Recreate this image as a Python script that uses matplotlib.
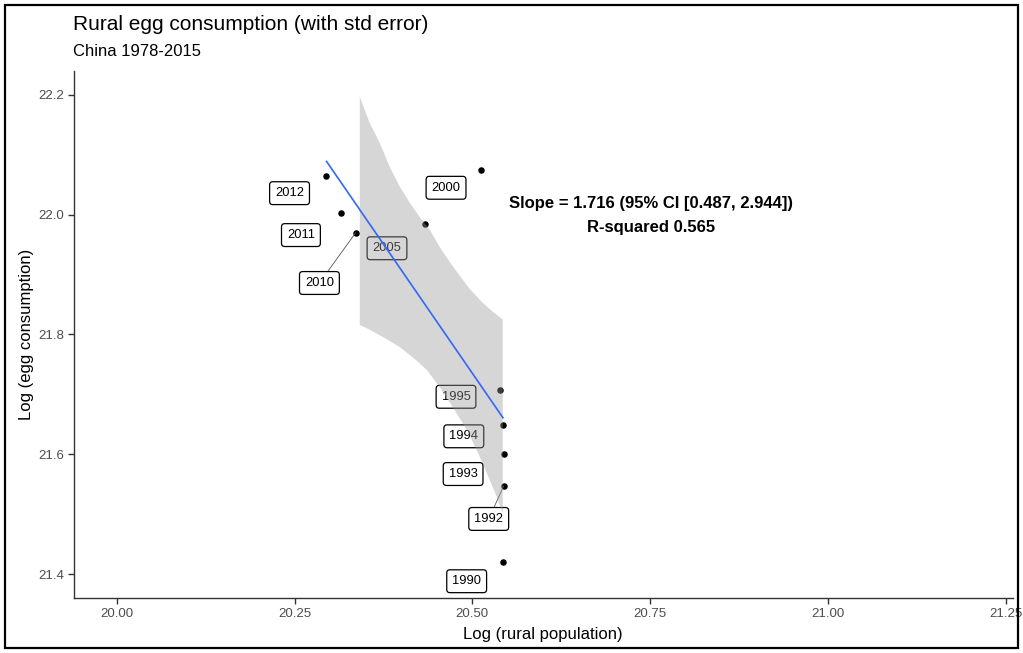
import numpy as np
import matplotlib
matplotlib.use("Agg")
import matplotlib.pyplot as plt
from matplotlib.patches import Rectangle

plt.rcParams['font.family'] = ['Liberation Sans', 'DejaVu Sans']

# ---- data ----
years = ["2012", "2011", "2010", "2005", "2000", "1995", "1994", "1993", "1992", "1990"]
log_pop = [20.294, 20.315, 20.336, 20.433, 20.512, 20.539, 20.543, 20.544, 20.544, 20.543]
log_egg = [22.065, 22.003, 21.970, 21.985, 22.075, 21.707, 21.649, 21.600, 21.547, 21.420]

# label positions (ggrepel-like placement)
label_x = [20.243, 20.259, 20.285, 20.380, 20.463, 20.477, 20.488, 20.487, 20.523, 20.492]
label_y = [22.036, 21.966, 21.886, 21.944, 22.045, 21.696, 21.630, 21.567, 21.492, 21.388]
label_segment = [False, False, True, False, False, False, False, False, True, False]

# fitted line
fit_x = [20.295, 20.543]
fit_y = [22.089, 21.661]

# standard-error band (clipped at the top by the scale limit)
band_upper_x = [20.3417, 20.3417, 20.3557, 20.3698, 20.3838, 20.3979, 20.4120, 20.4260,
                20.4401, 20.4541, 20.4682, 20.4823, 20.4963, 20.5146, 20.5287, 20.5427]
band_upper_y = [21.816, 22.197, 22.153, 22.120, 22.080, 22.047, 22.020, 21.996,
                21.975, 21.946, 21.921, 21.898, 21.876, 21.853, 21.838, 21.825]
band_lower_x = [20.3417, 20.3557, 20.3740, 20.3979, 20.4162, 20.4359, 20.4541, 20.4724,
                20.4921, 20.5062, 20.5202, 20.5343, 20.5427]
band_lower_y = [21.816, 21.808, 21.796, 21.779, 21.762, 21.741, 21.712, 21.679,
                21.641, 21.607, 21.569, 21.529, 21.502]

x_ticks = [20.00, 20.25, 20.50, 20.75, 21.00, 21.25]
x_tick_labels = ["20.00", "20.25", "20.50", "20.75", "21.00", "21.25"]
y_ticks = [21.4, 21.6, 21.8, 22.0, 22.2]
y_tick_labels = ["21.4", "21.6", "21.8", "22.0", "22.2"]

title = "Rural egg consumption (with std error)"
subtitle = "China 1978-2015"
xlabel = "Log (rural population)"
ylabel = "Log (egg consumption)"
annot1 = "Slope = 1.716 (95% CI [0.487, 2.944])"
annot2 = "R-squared 0.565"

# ---- figure ----
W, H = 1023, 653
fig = plt.figure(figsize=(W / 100, H / 100), dpi=100)
fig.patch.set_facecolor("white")

left_px, right_px, top_px, bottom_px = 74, 1013, 71, 598
ax = fig.add_axes([left_px / W, 1 - bottom_px / H, (right_px - left_px) / W, (bottom_px - top_px) / H])
ax.set_xlim(19.94, 21.26)
ax.set_ylim(21.36, 22.24)

for s in ["top", "right"]:
    ax.spines[s].set_visible(False)
for s in ["left", "bottom"]:
    ax.spines[s].set_color("#333333")
    ax.spines[s].set_linewidth(1.0)

ax.set_xticks(x_ticks)
ax.set_xticklabels(x_tick_labels)
ax.set_yticks(y_ticks)
ax.set_yticklabels(y_tick_labels)
ax.tick_params(axis="both", length=4, width=1.0, color="#333333",
               labelcolor="#4D4D4D", labelsize=9.5, pad=3)

# points
ax.scatter(log_pop, log_egg, s=22, color="black", zorder=2, linewidths=0)

# segments and labels
for lx, ly, px, py, seg, yr in zip(label_x, label_y, log_pop, log_egg, label_segment, years):
    if seg:
        ax.plot([lx, px], [ly, py], color="#555555", lw=0.6, zorder=2.5)
    ax.text(lx, ly, yr, ha="center", va="center", fontsize=9.3, color="black", zorder=3,
            bbox=dict(boxstyle="round,pad=0.42,rounding_size=0.25", facecolor="white",
                      edgecolor="black", linewidth=0.9))

# standard-error band
poly_x = np.concatenate([band_upper_x, band_lower_x[::-1]])
poly_y = np.concatenate([band_upper_y, band_lower_y[::-1]])
ax.fill(poly_x, poly_y, color="#999999", alpha=0.4, linewidth=0, zorder=4)

# fitted line
ax.plot(fit_x, fit_y, color="#3366FF", lw=1.2, zorder=5)

# annotation
ax.text(20.751, 22.018, annot1, ha="center", va="center", fontsize=12, fontweight="bold", zorder=6)
ax.text(20.751, 21.978, annot2, ha="center", va="center", fontsize=12, fontweight="bold", zorder=6)

# titles and axis labels
fig.text(73 / W, 1 - 24 / H, title, ha="left", va="center", fontsize=15, color="black")
fig.text(73 / W, 1 - 52 / H, subtitle, ha="left", va="center", fontsize=12, color="black")
fig.text(543 / W, 1 - 634 / H, xlabel, ha="center", va="center", fontsize=12, color="black")
fig.text(27 / W, 1 - 334 / H, ylabel, ha="center", va="center", rotation=90, fontsize=12, color="black")

# outer border
fig.patches.append(Rectangle((5 / W, 5 / H), (1018 - 5) / W, (648 - 5) / H, transform=fig.transFigure,
                             fill=False, edgecolor="black", linewidth=1.6))

fig.savefig("out.png", dpi=100)
